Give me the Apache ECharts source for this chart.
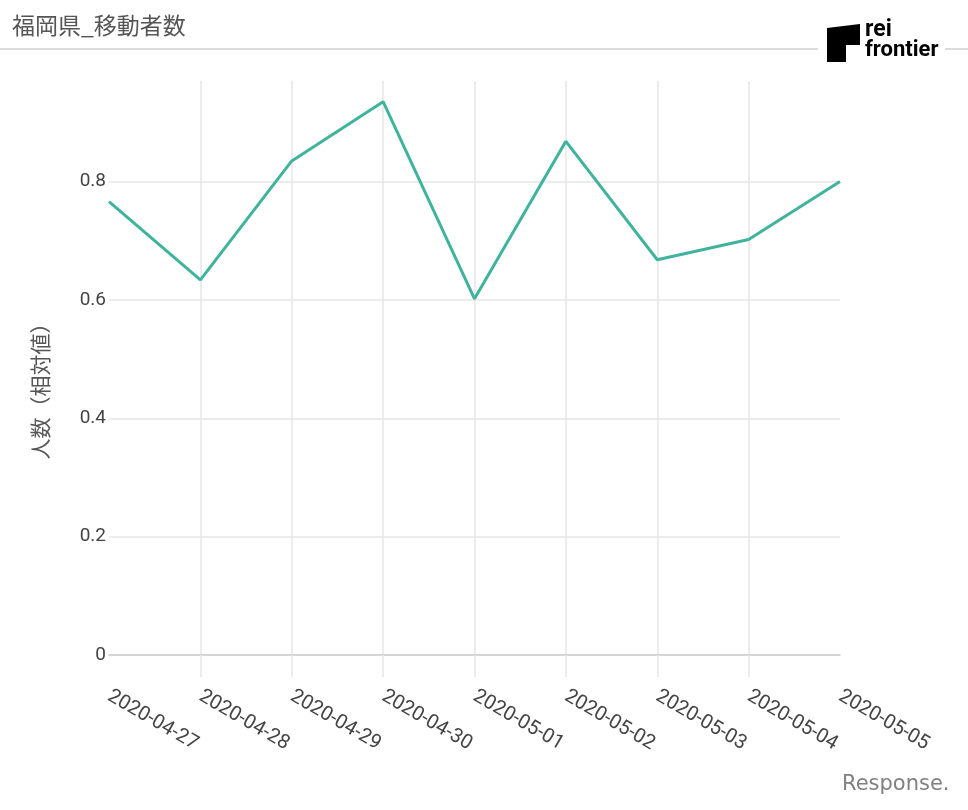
<!DOCTYPE html>
<html><head><meta charset="utf-8">
<script src="https://cdn.jsdelivr.net/npm/echarts@6/dist/echarts.min.js"></script>
<style>html,body{margin:0;padding:0;background:#fff}#c{width:968px;height:810px}</style>
</head><body><div id="c"></div>
<script>
const categories = ['2020-04-27','2020-04-28','2020-04-29','2020-04-30','2020-05-01','2020-05-02','2020-05-03','2020-05-04','2020-05-05'];
const values = [0.766, 0.634, 0.835, 0.935, 0.602, 0.868, 0.668, 0.702, 0.800];
const yTicks = [0, 0.2, 0.4, 0.6, 0.8];
const titleText = '福岡県_移動者数';
const yName = '人数（相対値）';

const chart = echarts.init(document.getElementById('c'), null, {renderer: 'canvas'});
const font = '"Noto Sans CJK JP", "Noto Sans", sans-serif';
const numFont = 'Roboto, "Liberation Sans", sans-serif';
const last = categories.length - 1;
chart.setOption({
  backgroundColor: '#fff',
  animation: false,
  title: {text: titleText, left: 7, top: 9, textStyle: {fontSize: 23, fontWeight: 'normal', color: '#555', fontFamily: font}},
  grid: {left: 109, right: 128, top: 81, bottom: 155, containLabel: false},
  xAxis: {
    type: 'category', data: categories, boundaryGap: false,
    axisLine: {show: true, lineStyle: {color: '#c8c8c8', width: 1.5}},
    axisTick: {show: true, length: 22, inside: false, interval: (i) => i > 0 && i < last, lineStyle: {color: '#e6e6e6', width: 1.5}},
    splitLine: {show: true, interval: (i) => i > 0 && i < last, lineStyle: {color: '#e6e6e6', width: 1.5}},
    axisLabel: {rotate: -30, margin: 40, interval: 0, fontSize: 20, color: '#444', fontFamily: numFont}
  },
  yAxis: {
    type: 'value', min: 0, max: 0.97, interval: 0.2,
    axisLine: {show: false}, axisTick: {show: false},
    splitLine: {show: false},
    axisLabel: {margin: 3, fontSize: 19, color: '#444', fontFamily: numFont,
      formatter: (v) => yTicks.indexOf(Math.round(v * 10) / 10) >= 0 && Math.abs(v - Math.round(v * 10) / 10) < 1e-6 ? String(Math.round(v * 10) / 10) : ''}
  },
  series: [
    {
      type: 'line', data: [], z: 0, silent: true,
      markLine: {silent: true, z: 0, symbol: ['none', 'none'], label: {show: false}, animation: false,
        lineStyle: {color: '#e6e6e6', width: 1.5, type: 'solid'},
        data: yTicks.filter(v => v > 0).map(v => ({yAxis: v}))}
    },
    {
      type: 'line', data: values, symbol: 'none', smooth: false, z: 3,
      lineStyle: {color: '#40b39c', width: 3}, itemStyle: {color: '#40b39c'}
    }
  ],
  graphic: [
    {type: 'text', x: 40, y: 386, rotation: Math.PI / 2,
      style: {text: yName, fontSize: 21, fill: '#555', fontFamily: font, align: 'center', verticalAlign: 'middle'}},
    {type: 'line', shape: {x1: 0, y1: 49, x2: 818, y2: 49}, style: {stroke: '#d0d0d0', lineWidth: 1.5}},
    {type: 'line', shape: {x1: 945, y1: 49, x2: 968, y2: 49}, style: {stroke: '#d0d0d0', lineWidth: 1.5}},
    {type: 'polygon', shape: {points: [[827, 28], [860, 24], [860, 45], [846, 45], [846, 62], [827, 62]]}, style: {fill: '#000'}},
    {type: 'text', left: 865, top: 19, style: {text: 'rei', fontSize: 23, fontWeight: 'bold', fill: '#000', fontFamily: numFont}},
    {type: 'text', left: 865, top: 39, style: {text: 'frontier', fontSize: 22, fontWeight: 'bold', fill: '#000', fontFamily: numFont}},
    {type: 'text', left: 842, top: 774, style: {text: 'Response.', fontSize: 21, fill: '#808080', fontFamily: '"DejaVu Sans", sans-serif'}}
  ]
});
</script></body></html>
